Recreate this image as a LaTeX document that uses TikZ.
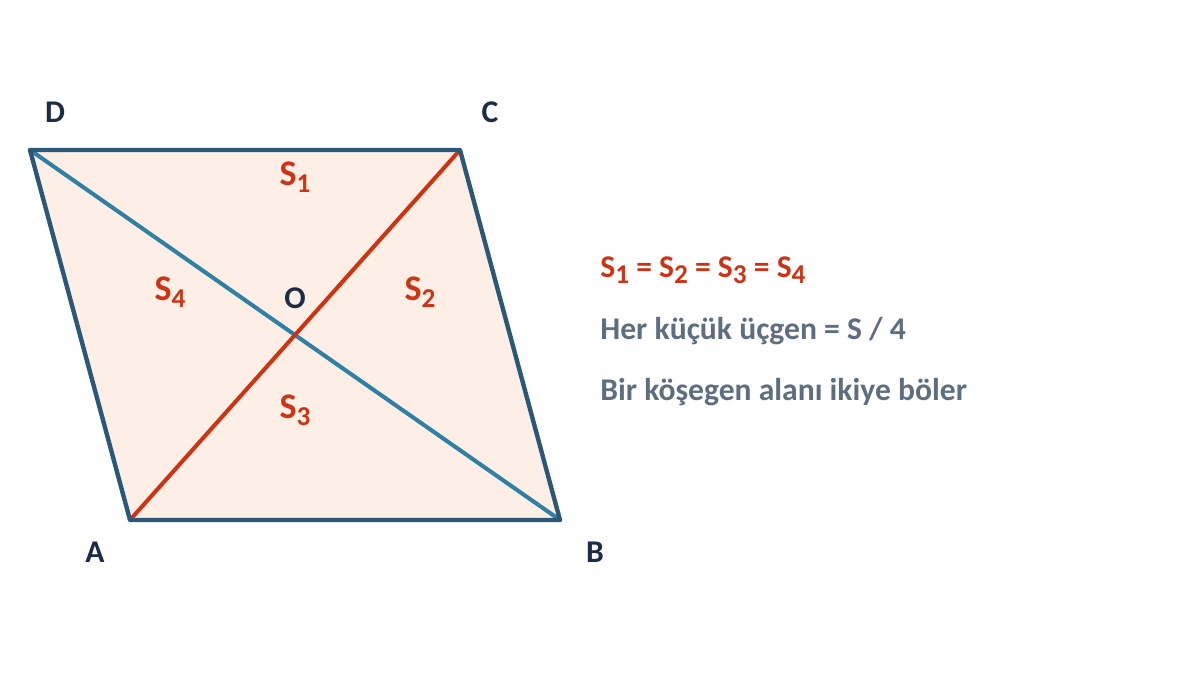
\documentclass[tikz,border=0pt]{standalone}
\usepackage{fontspec}
\setmainfont{Carlito}
\usetikzlibrary{positioning}

\definecolor{edgeblue}{HTML}{2A5878}
\definecolor{diagblue}{HTML}{2E80A4}
\definecolor{diagred}{HTML}{CC3414}
\definecolor{areafill}{HTML}{FDEEE6}
\definecolor{vertexnavy}{HTML}{1B2C46}
\definecolor{notegray}{HTML}{5E6E80}

\newcommand{\Ssub}[1]{S\raisebox{-0.4ex}{\fontsize{15.5}{15}\selectfont #1}}

\begin{document}
\begin{tikzpicture}[x=0.02cm,y=-0.02cm]
\tikzstyle{every node}+=[inner sep=0pt]
\tikzset{
  vertex/.style={font=\fontsize{18}{20}\selectfont\bfseries, text=vertexnavy},
  area/.style={font=\fontsize{20.5}{22}\selectfont\bfseries, text=diagred},
  note/.style={anchor=west, font=\fontsize{18}{20}\selectfont\bfseries, text=notegray}
}
\useasboundingbox (0,0) rectangle (1200,675);
\coordinate (A) at (130,520);
\coordinate (B) at (560,520);
\coordinate (C) at (460,150);
\coordinate (D) at (30,150);
\coordinate (O) at (295,335);
% parallelogram
\fill [areafill] (A) -- (B) -- (C) -- (D) -- cycle;
\draw [diagblue, line width=2.3pt, line cap=round] (D) -- (B);
\draw [diagred, line width=2.3pt, line cap=round] (A) -- (C);
\draw [edgeblue, line width=2.5pt, line join=round] (A) -- (B) -- (C) -- (D) -- cycle;
% vertex labels
\node [vertex] (lA) at (95,552) {A};
\node [vertex] (lB) at (595,552) {B};
\node [vertex] (lC) at (490,112) {C};
\node [vertex] (lD) at (55,112) {D};
\node [vertex] (lO) at (295,298) {O};
% areas
\node [area] (s1) at (295,177) {\Ssub{1}};
\node [area] (s2) at (420,292) {\Ssub{2}};
\node [area] (s3) at (295,410) {\Ssub{3}};
\node [area] (s4) at (170,292) {\Ssub{4}};
% notes
\node [note, text=diagred] (n1) at (600,270) {\Ssub{1} = \Ssub{2} = \Ssub{3} = \Ssub{4}};
\node [note] (n2) at (600,331) {Her küçük üçgen = S / 4};
\node [note] (n3) at (600,392) {Bir köşegen alanı ikiye böler};
\end{tikzpicture}
\end{document}
